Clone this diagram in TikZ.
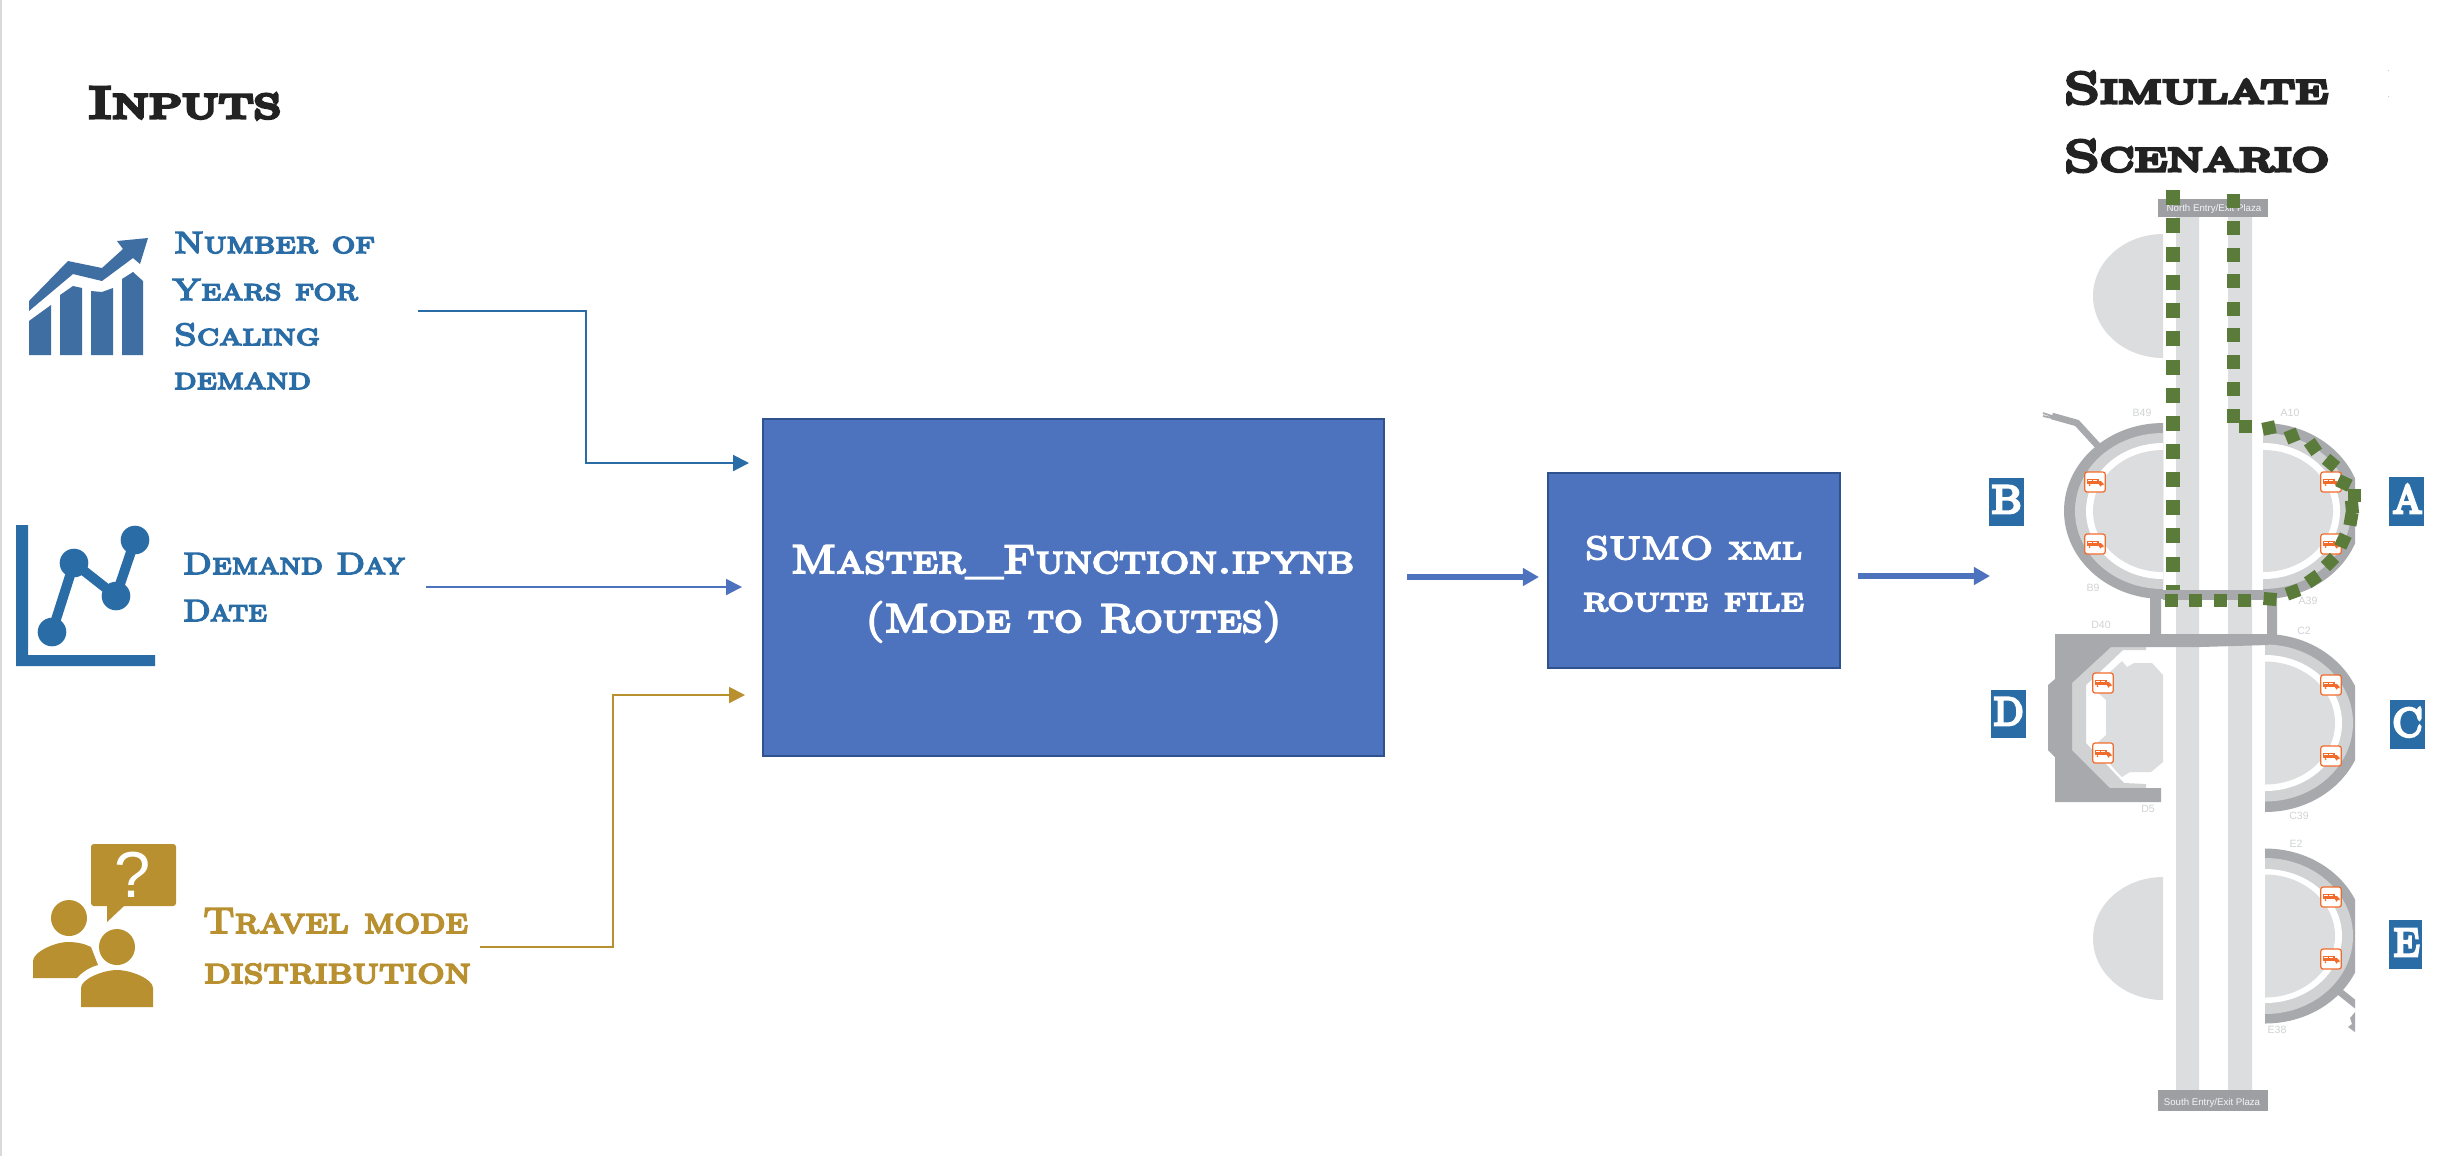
\documentclass[tikz,border=0pt]{standalone}
\usepackage{fontspec}
\usepackage{graphicx}
\usetikzlibrary{arrows.meta}
\newfontfamily\copp[FakeBold=4.8,SmallCapsFont={Latin Modern Roman Caps},SmallCapsFeatures={FakeBold=4.8}]{Latin Modern Roman}
\newfontfamily\coph[FakeBold=7,SmallCapsFont={Latin Modern Roman Caps},SmallCapsFeatures={FakeBold=7}]{Latin Modern Roman}
\newfontfamily\sansf{Liberation Sans}
\newlength\pxu \setlength\pxu{0.01cm}
\newcommand\cpt[3]{\resizebox{#1\pxu}{\height}{\copp\fontsize{#2}{#2}\selectfont\scshape #3}}
\newcommand\cph[3]{\resizebox{#1\pxu}{\height}{\coph\fontsize{#2}{#2}\selectfont\scshape #3}}
\definecolor{headk}{HTML}{222222}
\definecolor{bluet}{HTML}{2A6CA5}
\definecolor{blueic}{HTML}{3F6EA3}
\definecolor{goldt}{HTML}{B8902F}
\definecolor{boxf}{HTML}{4E73BE}
\definecolor{boxe}{HTML}{2F528F}
\definecolor{lightg}{HTML}{DCDDDE}
\definecolor{midg}{HTML}{D1D2D4}
\definecolor{darkg}{HTML}{A7A9AC}
\definecolor{plazag}{HTML}{9D9FA2}
\definecolor{labg}{HTML}{D1D3D4}
\definecolor{routeg}{HTML}{5B7B3A}
\definecolor{trucko}{HTML}{F26B2B}
\tikzset{
  txt/.style={inner sep=0pt,outer sep=0pt,anchor=base west},
  mainbox/.style={draw=boxe,fill=boxf,line width=0.6pt,inner sep=0pt},
  thinblue/.style={draw=bluet,line width=0.6pt,-{Triangle[length=4.5pt,width=4.5pt]}},
  thinblue2/.style={draw=boxf,line width=0.6pt,-{Triangle[length=4.5pt,width=4.5pt]}},
  thingold/.style={draw=goldt,line width=0.6pt,-{Triangle[length=4.5pt,width=4.5pt]}},
  thickblue/.style={draw=boxf,line width=1.7pt,-{Triangle[length=4.6pt,width=4.9pt]}},
  gatelab/.style={text=labg,inner sep=0pt,font=\sansf\fontsize{3}{3}\selectfont},
  plazalab/.style={text=white!90!plazag,inner sep=0pt,anchor=base,font=\sansf\fontsize{2.75}{3}\selectfont},
  letbox/.style={fill=bluet}
}
% half ellipse: flat x, centre y, rx, ry, side(+1/-1), colour
\newcommand\halfe[6]{\fill[#6] (#1,{#2-#4}) .. controls ({#1+#5*0.5523*#3},{#2-#4}) and ({#1+#5*#3},{#2-0.5523*#4}) .. ({#1+#5*#3},#2) .. controls ({#1+#5*#3},{#2+0.5523*#4}) and ({#1+#5*0.5523*#3},{#2+#4}) .. (#1,{#2+#4}) -- cycle;}
% terminal rings
\newcommand\rings[7]{\halfe{#1}{#2}{99}{#3}{#7}{darkg}\halfe{#1}{#2}{88}{#4}{#7}{midg}\halfe{#1}{#2}{77}{#5}{#7}{white}\halfe{#1}{#2}{70}{#6}{#7}{lightg}}
\newcommand\truck[2]{\begin{scope}[shift={(#1,#2)}]
  \draw[trucko,fill=white,line width=0.35pt,rounded corners=0.7pt] (-10.3,-10) rectangle (10.3,10);
  \fill[trucko] (-8.3,-3.2) rectangle (3.6,2.2);
  \fill[trucko] (4.2,-0.8) -- (6,-0.8) -- (8.6,1.8) -- (8.6,3) -- (4.2,3) -- cycle;
  \fill[trucko] (-5.5,3) circle (1) (5.6,3.6) circle (1);
  \fill[white] (-6.8,-1.8) rectangle (-3.2,-0.9);
  \fill[white] (-1.8,-1.8) rectangle (1.8,-0.9);
\end{scope}}
\newcommand\gsq[3]{\fill[routeg,rotate around={#3:(#1,#2)}] ({#1-6.5},{#2-6.5}) rectangle ({#1+6.5},{#2+6.5});}
\begin{document}
\begin{tikzpicture}[x=0.01cm,y=-0.01cm]
\useasboundingbox (0,0) rectangle (2454,1156);
\fill[white] (0,0) rectangle (2454,1156);
\fill[black!15] (0,0) rectangle (2,1156);
\fill[black!20] (2388,70) rectangle (2389,71) (2388,96) rectangle (2389,97);

% headings
\node[txt,text=headk] (hinputs) at (88,118) {\cph{193}{12.9}{Inputs}};
\node[txt,text=headk] (hsim) at (2064,103) {\cph{264}{12.5}{Simulate}};
\node[txt,text=headk] (hscen) at (2064,171) {\cph{265}{12.5}{Scenario}};

% input 1 text and icon
\node[txt,text=bluet] (t1a) at (174,253) {\cpt{201}{8.75}{Number of}};
\node[txt,text=bluet] (t1b) at (172,300) {\cpt{186}{8.75}{Years for}};
\node[txt,text=bluet] (t1c) at (174,345) {\cpt{146}{8.75}{Scaling}};
\node[txt,text=bluet] (t1d) at (174,389) {\cpt{137}{8.75}{demand}};
\fill[blueic] (29,355) -- (29,321) -- (51,305) -- (51,355) -- cycle
  (60,355) -- (60,295) -- (73,286) -- (82,288) -- (82,355) -- cycle
  (91,355) -- (91,291) -- (102,292) -- (113,288) -- (113,355) -- cycle
  (122,355) -- (122,279) -- (133,272) -- (143,281) -- (143,355) -- cycle;
\fill[blueic] (29,311) -- (29,301) -- (68,261) -- (102,268) -- (123,249) -- (117,241) -- (148,238) -- (140,264) -- (133,258) -- (102,281) -- (73,274) -- cycle;

% input 2 text and icon
\node[txt,text=bluet] (t2a) at (183,574) {\cpt{222}{8.75}{Demand Day}};
\node[txt,text=bluet] (t2b) at (183,621) {\cpt{84}{8.75}{Date}};
\fill[bluet] (16,525) rectangle (28,666) (16,655) rectangle (155,666);
\draw[bluet,line width=2.8pt] (52,632) -- (74,563) -- (116,596) -- (135,540);
\fill[bluet] (52,632) circle (14.3) (74,563) circle (14.3) (116,596) circle (14.3) (135,540) circle (14.3);

% input 3 text and icon
\node[txt,text=goldt] (t3a) at (203,933) {\cpt{265}{10.4}{Travel mode}};
\node[txt,text=goldt] (t3b) at (204,983) {\cpt{267}{10.4}{distribution}};
\fill[goldt,rounded corners=0.8pt] (91,844) rectangle (176,906);
\fill[goldt] (107,900) -- (107,922) -- (124,906) -- (124,900) -- cycle;
\node[inner sep=0pt,text=white] (qm) at (133,875) {\sansf\fontsize{18.5}{18.5}\selectfont ?};
\fill[goldt] (69,918) circle (18);
\fill[goldt] (33,978) -- (33,961) .. controls (33,952) and (55,942) .. (68,942) .. controls (78,942) and (85,944) .. (91,947) -- (98,965) .. controls (90,967) and (82,972) .. (77,978) -- cycle;
\fill[goldt] (117,947) circle (18);
\fill[goldt] (81,1007) -- (81,988) .. controls (81,979) and (103,970) .. (117,970) .. controls (131,970) and (153,979) .. (153,988) -- (153,1007) -- cycle;

% main boxes
\node[mainbox,minimum width=621\pxu,minimum height=337\pxu] (master) at (1073.5,587.5) {};
\node[txt,text=white] (mt1) at (791,573) {\cpt{563}{11.5}{Master\_Function.ipynb}};
\node[txt,text=white] (mt2) at (865,632) {\cpt{417}{11.5}{(Mode to Routes)}};
\node[mainbox,minimum width=292\pxu,minimum height=195\pxu] (sumo) at (1694,570.5) {};
\node[txt,text=white] (st1) at (1585,559) {\cpt{217}{9.2}{SUMO xml}};
\node[txt,text=white] (st2) at (1583,611) {\cpt{221}{9.8}{route file}};

% connector ends
\coordinate (c1s) at (418,311); \coordinate (c1e) at (749,463);
\coordinate (c2s) at (426,587); \coordinate (c2e) at (742,587);
\coordinate (c3s) at (480,947); \coordinate (c3e) at (745,695);
\coordinate (c4s) at (1407,577); \coordinate (c4e) at (1539,577);
\coordinate (c5s) at (1858,576); \coordinate (c5e) at (1990,576);
\draw[thinblue] (c1s) -- (586,311) -- (586,463) -- (c1e);
\draw[thinblue2] (c2s) -- (c2e);
\draw[thingold] (c3s) -- (613,947) -- (613,695) -- (c3e);
\draw[thickblue] (c4s) -- (c4e);
\draw[thickblue] (c5s) -- (c5e);

% airport map: parking half ellipses
\halfe{2163}{296}{70}{62}{-1}{lightg}
\halfe{2163}{938.5}{70}{61.5}{-1}{lightg}
% concourse strips
\fill[lightg] (2176,217) rectangle (2199,1090) (2228,217) rectangle (2252,1090);
% terminal B
\rings{2163}{511}{88}{78}{68}{61}{-1}
\draw[darkg,line width=1.9pt] (2098,446) -- (2077,423) -- (2052,416);
\draw[darkg,line width=0.5pt] (2052,416) -- (2043,413) (2052,418) -- (2043,416);
% A, C, E clipped on the right
\begin{scope}
\clip (2200,300) rectangle (2355,1156);
\rings{2263}{511}{88}{78}{68}{61}{1}
\rings{2265}{723}{89}{78.5}{68}{61.5}{1}
\rings{2265}{936}{87.5}{78}{67}{61.5}{1}
\draw[darkg,line width=2pt] (2335,988) -- (2360,1008);
\fill[darkg] (2355,1012) -- (2350,1018) -- (2352,1024) -- (2348,1027) -- (2355,1032) -- cycle;
\end{scope}
% connecting bands and stubs
\fill[darkg] (2163,590) rectangle (2263,600);
\fill[darkg] (2150,595) rectangle (2161,640) (2267,595) rectangle (2277,640);
% terminal D
\fill[lightg] (2122,661) -- (2127,667) -- (2134,663) -- (2152,663) -- (2163,675) -- (2163,762) -- (2151,772) -- (2130,772) -- (2122,777) -- (2115,770) -- (2095,745) -- (2106,735) -- (2106,700) -- (2095,690) -- (2110,672) -- cycle;
\fill[midg] (2111,647) -- (2146,647) -- (2146,650) -- (2123,650) -- (2086,685) -- (2086,743) -- (2124,783) -- (2146,784) -- (2146,788) -- (2110,788) -- (2072,750) -- (2072,683) -- cycle;
\fill[darkg] (2055,634) -- (2268,634) -- (2268,645) -- (2200,647) -- (2111,647) -- (2072,683) -- (2072,750) -- (2110,788) -- (2161,788) -- (2161,802) -- (2055,802) -- (2055,757) -- (2048,750) -- (2048,685) -- (2055,679) -- cycle;

% plazas
\fill[plazag] (2158,199) rectangle (2268,217);
\fill[plazag] (2158,1090) rectangle (2268,1111);
\node[plazalab] (pln) at (2214,211) {North Entry/Exit Plaza};
\node[plazalab] (pls) at (2212,1105) {South Entry/Exit Plaza};

% gate labels
\node[gatelab] (g1) at (2142,413) {B49};
\node[gatelab] (g2) at (2290,413) {A10};
\node[gatelab] (g3) at (2093,588) {B9};
\node[gatelab] (g4) at (2308,601) {A39};
\node[gatelab] (g5) at (2101,625) {D40};
\node[gatelab] (g6) at (2304,631) {C2};
\node[gatelab] (g7) at (2148,809) {D5};
\node[gatelab] (g8) at (2299,816) {C39};
\node[gatelab] (g9) at (2296,844) {E2};
\node[gatelab] (g10) at (2277,1030) {E38};

% trucks
\truck{2095}{482}\truck{2095}{544}
\truck{2331}{482}\truck{2331}{544}
\truck{2103}{683}\truck{2103}{753}
\truck{2331}{685}\truck{2331}{756}
\truck{2331}{897}\truck{2331}{959}

% route: left column
\foreach \yy in {197,225,254,282,310,338,367,395,423,451,479,507,535,564}{
  \fill[routeg] (2166,{\yy-7.5}) rectangle (2180,{\yy+7.5});}
\fill[routeg] (2166,585) rectangle (2180,590);
% route: right column
\foreach \yy in {201,228,255,281,309,335,362,389,416}{
  \fill[routeg] (2226.5,{\yy-6.8}) rectangle (2239.5,{\yy+6.8});}
\gsq{2245}{426}{0}
\gsq{2269}{428}{12}\gsq{2292}{436}{22}\gsq{2313}{447}{35}\gsq{2331}{463}{50}
\gsq{2344}{483}{65}\gsq{2354}{495}{0}\gsq{2352}{507}{5}\gsq{2351}{519}{-10}
\gsq{2343}{541}{-25}\gsq{2330}{562}{-45}\gsq{2313}{579}{-55}\gsq{2293}{592}{-70}
\gsq{2270}{599}{-5}\gsq{2244}{600}{0}\gsq{2220}{600}{0}\gsq{2195}{600}{0}\gsq{2171}{600}{0}

% letter boxes
\fill[letbox] (1989,478) rectangle (2024,526);
\fill[letbox] (2389,477) rectangle (2424,526);
\fill[letbox] (1991,690) rectangle (2026,738);
\fill[letbox] (2390,700) rectangle (2425,749);
\fill[letbox] (2389,920) rectangle (2422,969);
\node[txt,text=white] (lb) at (1991,513) {\cph{31}{11.3}{B}};
\node[txt,text=white] (la) at (2392,513) {\cph{31}{11.3}{A}};
\node[txt,text=white] (ld) at (1993,725) {\cph{31}{11.3}{D}};
\node[txt,text=white] (lc) at (2392,736) {\cph{31}{11.3}{C}};
\node[txt,text=white] (le) at (2393,956) {\cph{27}{11.3}{E}};
\end{tikzpicture}
\end{document}
